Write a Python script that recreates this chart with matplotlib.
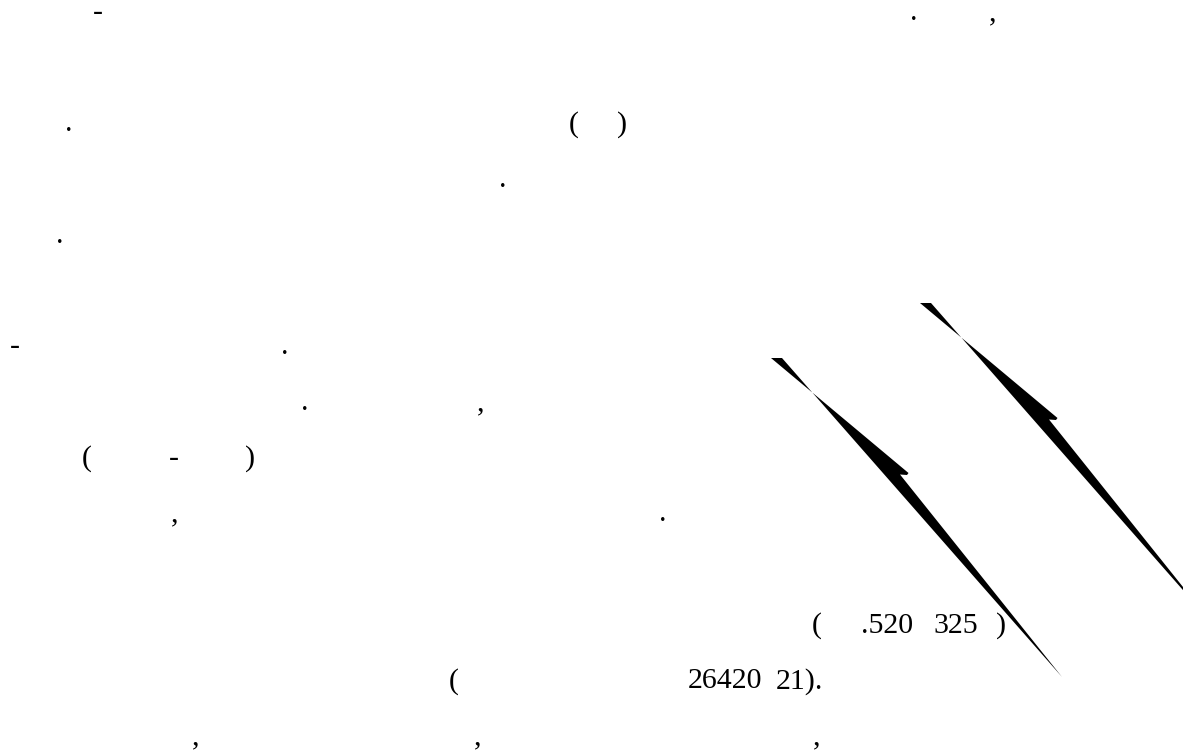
import matplotlib
matplotlib.use("Agg")
import matplotlib.pyplot as plt
from matplotlib.patches import Polygon

# ---- text fragments (visible glyphs of the scanned page) ----
frag_text = ["-", ".", ",",
             ".", "(", ")",
             ".",
             ".",
             "-", ".",
             ".", ",",
             "(", "-", ")",
             ",", ".",
             "(", ".520", "325", ")",
             "(", "26420", "21).",
             ",", ",", ","]
frag_x = [98, 914, 993,
          69, 574, 622,
          503,
          60,
          15, 285,
          305, 481,
          87, 174, 250,
          175, 663,
          817, 887, 956, 1001,
          454, 725, 799,
          196, 478, 817]
frag_line = [0, 0, 0,
             2, 2, 2,
             3,
             4,
             6, 6,
             7, 7,
             8, 8, 8,
             9, 9,
             11, 11, 11, 11,
             12, 12, 12,
             13, 13, 13]
first_baseline = 20
line_step = 55.7

# ---- lightning-bolt shape (template) and its two placements ----
bolt_x = [771, 908.5, 907, 900, 1062, 782]
bolt_y = [358, 473, 475, 474.5, 677, 358]
bolt_dx = [0, 149]
bolt_dy = [0, -55]

W, H = 1183, 756
fig = plt.figure(figsize=(W / 100, H / 100), dpi=100)
ax = fig.add_axes([0, 0, 1, 1])
ax.set_xlim(0, W)
ax.set_ylim(H, 0)
ax.axis("off")

for t, x, ln in zip(frag_text, frag_x, frag_line):
    ax.text(x, first_baseline + ln * line_step, t, ha="center", va="baseline",
            fontsize=21.5, family=["Liberation Serif", "DejaVu Serif"], color="black")

for dx, dy in zip(bolt_dx, bolt_dy):
    pts = [(x + dx, y + dy) for x, y in zip(bolt_x, bolt_y)]
    ax.add_patch(Polygon(pts, closed=True, facecolor="black", edgecolor="none"))

fig.savefig("out.png", dpi=100, facecolor="white")
